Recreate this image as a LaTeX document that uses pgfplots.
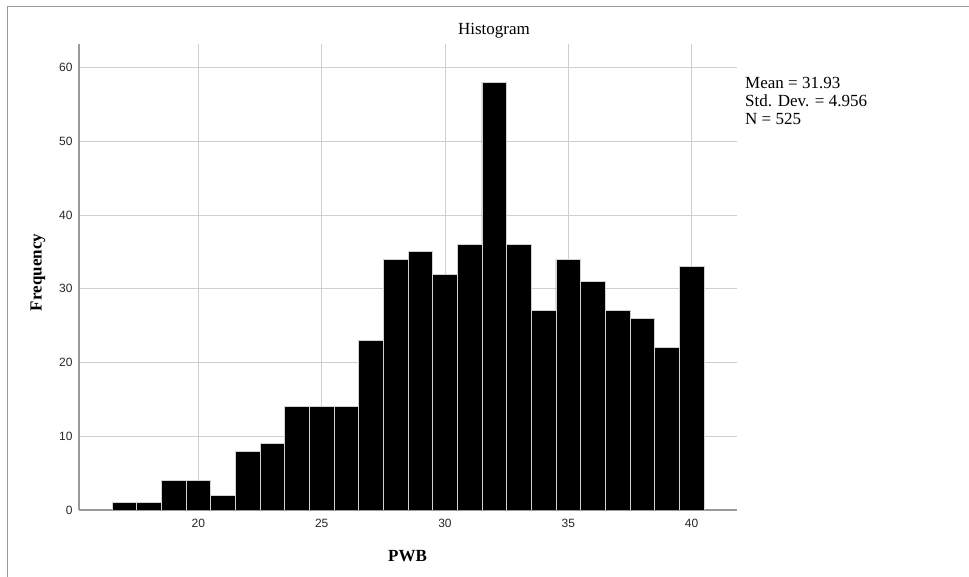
\documentclass[border=0pt]{standalone}
\usepackage{pgfplots}
\pgfplotsset{compat=1.18}
\usepackage{fontspec}
\setmainfont{Liberation Serif}
\setsansfont{Liberation Sans}
\definecolor{axisgray}{HTML}{9A9A9A}
\definecolor{gridgray}{HTML}{CFCFCF}
\begin{document}
\begin{tikzpicture}[x=1pt,y=1pt]
\useasboundingbox (0,0) rectangle (969,577);
% outer frame (left and top only visible)
\draw[axisgray, line width=1.2pt] (7.3,0) -- (7.3,570.7) -- (969,570.7);

\begin{axis}[
    at={(79pt,67pt)}, anchor=south west,
    scale only axis,
    width=658pt, height=466pt,
    xmin=15.16, xmax=41.84,
    ymin=0, ymax=63.2,
    axis x line*=bottom, axis y line*=left,
    axis line style={axisgray, line width=1.2pt, -},
    grid=major,
    grid style={gridgray, line width=0.8pt},
    major tick length=0pt,
    xtick={20,25,...,40},
    ytick={0,10,...,60},
    /pgf/number format/assume math mode=true,
    tick label style={font=\sffamily\fontsize{12}{14}\selectfont, text=black!85},
    xticklabel style={yshift=-5.5pt},
    yticklabel style={xshift=-3pt},
]
% PWB frequencies, bins 17..40
\addplot[ybar, bar width=1, fill=black, draw=gray!35, line width=0.9pt] coordinates {
    (17,1) (18,1) (19,4) (20,4) (21,2) (22,8) (23,9) (24,14)
    (25,14) (26,14) (27,23) (28,34) (29,35) (30,32) (31,36) (32,58)
    (33,36) (34,27) (35,34) (36,31) (37,27) (38,26) (39,22) (40,33)
};
\end{axis}

\node[anchor=base, font=\fontsize{17}{19}\selectfont] at (494,542) {Histogram};
\node[anchor=base, font=\bfseries\fontsize{17}{19}\selectfont] at (407.5,15) {PWB};
\node[anchor=base, rotate=90, font=\bfseries\fontsize{17}{19}\selectfont] at (41.5,304.5) {Frequency};

\node[anchor=base west, inner sep=0pt, font=\fontsize{17}{19}\selectfont] at (745,488.7) {Mean = 31.93};
\node[anchor=base west, inner sep=0pt, font=\fontsize{17}{19}\selectfont] at (745,470.3) {Std. Dev. = 4.956};
\node[anchor=base west, inner sep=0pt, font=\fontsize{17}{19}\selectfont] at (745,452.7) {N = 525};
\end{tikzpicture}
\end{document}
